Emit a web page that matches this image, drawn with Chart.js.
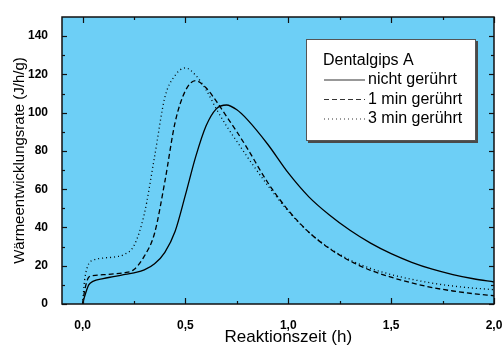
<!DOCTYPE html>
<html>
<head>
<meta charset="utf-8">
<script src="https://cdn.jsdelivr.net/npm/chart.js@4.4.1/dist/chart.umd.min.js"></script>
<style>
html, body { margin: 0; padding: 0; background: #fff; }
#wrap { width: 503px; height: 347px; }
</style>
</head>
<body>
<div id="wrap"><canvas id="heatChart" width="503" height="347"></canvas></div>
<script>
// ===============================
// Wärmeentwicklung Dentalgips A
// ===============================

// Reaktionszeit (h)
const times = [0, 0.01, 0.03, 0.05, 0.1, 0.15, 0.2, 0.25, 0.3, 0.35, 0.4, 0.45, 0.5, 0.55, 0.6,
    0.65, 0.7, 0.75, 0.8, 0.9, 1.0, 1.1, 1.2, 1.3, 1.4, 1.5, 1.6, 1.7, 1.8, 1.9, 2.0];

// Wärmeentwicklungsrate (J/h/g)
const notStirred = [0, 4, 10, 11.8, 13.3, 14.3, 15.3, 16.3, 17.8, 21, 27, 38, 57, 77, 93,
    102, 104, 101.5, 96.5, 83.5, 68.5, 56, 46.5, 38.5, 31.8, 26.3, 21.8, 18.2, 15.4, 13.2, 11.5];
const stirred1 = [0, 7, 14, 14.8, 15.3, 15.7, 16.3, 18, 25, 37, 64, 95, 111.5, 116.7, 113,
    106, 98, 90, 81.5, 63.5, 49, 37.5, 29, 22.5, 17.6, 14, 11, 8.6, 6.8, 5.4, 4.3];
const stirred3 = [0, 12.5, 21, 22.8, 24, 24.5, 25.8, 30.5, 47, 77, 108, 119.5, 123.4, 119.5, 112,
    102, 93, 85, 77, 62, 48.5, 37.5, 29.2, 23, 18.6, 15.4, 12.9, 10.9, 9.4, 8.3, 7.5];

const seriesLabels = ['nicht gerührt', '1 min gerührt', '3 min gerührt'];
const legendTitle = 'Dentalgips A';

const xTicks = [0, 0.5, 1.0, 1.5, 2.0];
const xTickLabels = ['0,0', '0,5', '1,0', '1,5', '2,0'];
const xMinor = [0.25, 0.75, 1.25, 1.75];
const yTicks = [0, 20, 40, 60, 80, 100, 120, 140];
const yMinor = [10, 30, 50, 70, 90, 110, 130];

const xTitle = 'Reaktionszeit (h)';
const yTitle = 'Wärmeentwicklungsrate (J/h/g)';

const FONT = "'Liberation Sans', Arial, sans-serif";

function toPoints(ys) {
    return times.map((t, i) => ({ x: t, y: ys[i] }));
}

// Background of the plot area
const plotBackground = {
    id: 'plotBackground',
    beforeDraw(chart) {
        const { ctx, chartArea: a } = chart;
        ctx.save();
        ctx.fillStyle = '#6dcff6';
        ctx.fillRect(a.left, a.top, a.right - a.left, a.bottom - a.top);
        ctx.restore();
    }
};

// Frame, inward ticks on all four sides, x title and legend box
const frameAndLegend = {
    id: 'frameAndLegend',
    afterDraw(chart) {
        const { ctx, chartArea: a } = chart;
        const xs = chart.scales.x, ys = chart.scales.y;
        ctx.save();
        ctx.strokeStyle = '#111';

        const line = (x1, y1, x2, y2) => {
            ctx.beginPath();
            ctx.moveTo(x1, y1);
            ctx.lineTo(x2, y2);
            ctx.stroke();
        };

        ctx.lineWidth = 1.2;
        xTicks.forEach(v => {
            const px = Math.round(xs.getPixelForValue(v)) + 0.5;
            line(px, a.bottom, px, a.bottom - 6);
            line(px, a.top, px, a.top + 6);
        });
        xMinor.forEach(v => {
            const px = Math.round(xs.getPixelForValue(v)) + 0.5;
            line(px, a.bottom, px, a.bottom - 3);
            line(px, a.top, px, a.top + 3);
        });
        yTicks.forEach(v => {
            const py = Math.round(ys.getPixelForValue(v)) + 0.5;
            line(a.left, py, a.left + 5, py);
            line(a.right, py, a.right - 5, py);
        });
        yMinor.forEach(v => {
            const py = Math.round(ys.getPixelForValue(v)) + 0.5;
            line(a.left, py, a.left + 3, py);
            line(a.right, py, a.right - 3, py);
        });

        ctx.lineWidth = 1.5;
        ctx.strokeRect(a.left, a.top, a.right - a.left, a.bottom - a.top);

        // x axis title, centred on the data range
        ctx.fillStyle = '#000';
        ctx.font = '17px ' + FONT;
        ctx.textAlign = 'center';
        ctx.textBaseline = 'middle';
        ctx.fillText(xTitle, xs.getPixelForValue(1.0), 337);

        // legend
        const bx = 306, by = 39, bw = 170, bh = 102;
        ctx.fillStyle = '#4a4a4a';
        ctx.fillRect(bx + 2, by + 2, bw, bh);
        ctx.fillStyle = '#fff';
        ctx.fillRect(bx, by, bw, bh);
        ctx.lineWidth = 1;
        ctx.strokeStyle = '#555';
        ctx.strokeRect(bx + 0.5, by + 0.5, bw - 1, bh - 1);

        ctx.fillStyle = '#000';
        ctx.font = '16px ' + FONT;
        ctx.textAlign = 'left';
        ctx.fillText(legendTitle, 323, 61);
        chart.data.datasets.forEach((ds, i) => {
            const y = 80 + i * 19.5;
            ctx.strokeStyle = '#333';
            ctx.lineWidth = 1.2;
            ctx.setLineDash(ds.borderDash || []);
            line(324, y, 365, y);
            ctx.setLineDash([]);
            ctx.fillText(ds.label, 368, y);
        });
        ctx.restore();
    }
};

const ctx = document.getElementById('heatChart').getContext('2d');
new Chart(ctx, {
    type: 'line',
    data: {
        datasets: [
            { label: seriesLabels[0], data: toPoints(notStirred), borderColor: '#000', borderWidth: 1.3 },
            { label: seriesLabels[1], data: toPoints(stirred1), borderColor: '#000', borderWidth: 1.3, borderDash: [5, 3] },
            { label: seriesLabels[2], data: toPoints(stirred3), borderColor: '#000', borderWidth: 1.3, borderDash: [1, 3] }
        ]
    },
    options: {
        responsive: false,
        animation: false,
        devicePixelRatio: 1,
        layout: { padding: { top: 17, right: 9, left: 0, bottom: 0 } },
        elements: {
            point: { radius: 0 },
            line: { cubicInterpolationMode: 'monotone', fill: false }
        },
        plugins: {
            legend: { display: false },
            tooltip: { enabled: false }
        },
        scales: {
            x: {
                type: 'linear',
                min: -0.1,
                max: 2.0,
                grid: { display: false },
                border: { display: false },
                afterBuildTicks: s => { s.ticks = xTicks.map(v => ({ value: v })); },
                afterFit: s => { s.height = 43; s.paddingLeft = 0; s.paddingRight = 0; },
                ticks: {
                    padding: 6,
                    color: '#000',
                    font: { family: FONT, size: 12, weight: 'bold' },
                    callback: (v) => xTickLabels[xTicks.indexOf(v)]
                }
            },
            y: {
                min: 0,
                max: 150,
                grid: { display: false },
                border: { display: false },
                afterBuildTicks: s => { s.ticks = yTicks.map(v => ({ value: v })); },
                afterFit: s => { s.width = 62; s.paddingTop = 0; s.paddingBottom = 0; },
                ticks: {
                    padding: 6,
                    color: '#000',
                    font: { family: FONT, size: 12, weight: 'bold' }
                },
                title: {
                    display: true,
                    text: yTitle,
                    color: '#000',
                    font: { family: FONT, size: 15, lineHeight: 1.2 },
                    padding: { top: 11, bottom: 0 }
                }
            }
        }
    },
    plugins: [plotBackground, frameAndLegend]
});
</script>
</body>
</html>
